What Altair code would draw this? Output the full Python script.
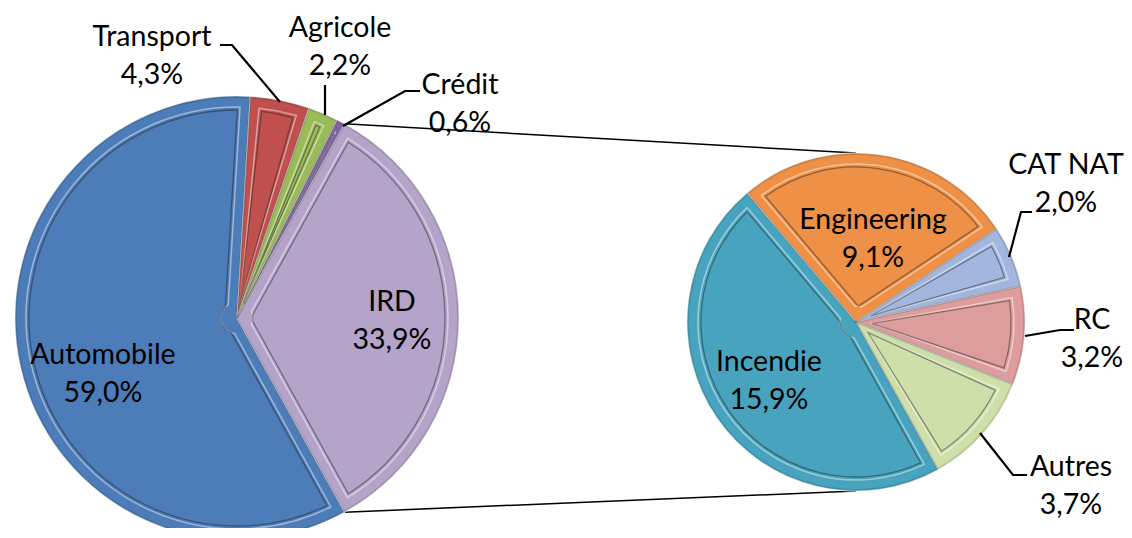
import math
import altair as alt
import pandas as pd

# ---------------- data ----------------
primary_labels = ["Automobile", "Transport", "Agricole", "Crédit", "IRD"]
primary_values = [59.0, 4.3, 2.2, 0.6, 33.9]
secondary_labels = ["Engineering", "CAT NAT", "RC", "Autres", "Incendie"]
secondary_values = [9.1, 2.0, 3.2, 3.7, 15.9]

# ---------------- style / layout ----------------
primary_colors = ["#4C7DB9", "#C0504D", "#9BBB59", "#8064A2", "#B5A4CA"]
secondary_colors = ["#EE9046", "#A3B6DE", "#DE9D9D", "#CFDFAA", "#48A4BE"]
FONT = "Lato"
W, H = 1116, 520
C1, R1 = (229, 310), 222      # primary pie centre / radius (chart px)
C2, R2 = (848, 314), 169      # secondary pie centre / radius
# Excel centres the "other" slice (IRD) on 3 o'clock
ird_angle = primary_values[-1] / sum(primary_values) * 2 * math.pi
START1 = math.pi / 2 + ird_angle / 2
START2 = math.radians(-40.2)

# label anchor points (chart px, middle of the first line)
label_pos = {
    "Automobile": (95, 347), "Transport": (144, 29), "Agricole": (332, 20),
    "Crédit": (452, 77), "IRD": (384, 294), "Engineering": (865, 212),
    "CAT NAT": (1058, 157), "RC": (1084, 312), "Incendie": (761, 354),
    "Autres": (1063, 459),
}
leaders = [
    [(212, 37), (224, 37), (272, 94)],
    [(317, 77), (317, 107)],
    [(412, 83), (397, 83), (335, 118)],
    [(1024, 204), (1013, 204), (1001, 249)],
    [(1066, 322), (1052, 322), (1017, 328)],
    [(1019, 467), (1005, 467), (972, 425)],
]


def fmt(v):
    return f"{v:.1f}%".replace(".", ",")


def pie_df(labels, values):
    return pd.DataFrame({"label": labels, "value": values, "idx": range(len(labels))})


def pie(labels, values, colors, centre, r, start):
    df = pie_df(labels, values)
    base = alt.Chart(df).encode(
        theta=alt.Theta("value:Q", stack=True,
                        scale=alt.Scale(range=[start, start + 2 * math.pi])),
        order=alt.Order("idx:Q"),
        x=alt.value(centre[0]),
        y=alt.value(centre[1]),
    )
    col = alt.Color("label:N", scale=alt.Scale(domain=labels, range=colors), legend=None)
    fill = base.mark_arc(outerRadius=r, stroke="white", strokeWidth=1.2,
                         strokeOpacity=0.6).encode(color=col)
    rim = base.mark_arc(outerRadius=r - 1, fillOpacity=0, stroke="#000000",
                        strokeOpacity=0.12, strokeWidth=2)
    hl = base.mark_arc(outerRadius=r - 11, innerRadius=16, padAngle=20 / r,
                       fillOpacity=0, stroke="white", strokeOpacity=0.45, strokeWidth=1.5)
    inner = base.mark_arc(outerRadius=r - 14, innerRadius=16, padAngle=26 / r,
                          fillOpacity=0, stroke="#222222", strokeOpacity=0.45, strokeWidth=1.3)
    return alt.layer(fill, rim, hl, inner)


pie1 = pie(primary_labels, primary_values, primary_colors, C1, R1, START1)
pie2 = pie(secondary_labels, secondary_values, secondary_colors, C2, R2, START2)

# connector lines from the IRD slice edges to the top / bottom of the second pie
a_top = START1 + 2 * math.pi * sum(primary_values[:-1]) / sum(primary_values)
a_bot = START1 + 2 * math.pi
conn_rows = []
for i, (ang, ys) in enumerate([(a_top, -1), (a_bot, 1)]):
    conn_rows.append({"id": i, "o": 0, "px": C1[0] + R1 * math.sin(ang),
                      "py": C1[1] - R1 * math.cos(ang)})
    conn_rows.append({"id": i, "o": 1, "px": C2[0], "py": C2[1] + ys * R2})
connectors = alt.Chart(pd.DataFrame(conn_rows)).mark_line(
    color="black", strokeWidth=1.5).encode(
    x=alt.X("px:Q", scale=None, axis=None),
    y=alt.Y("py:Q", scale=None, axis=None),
    detail="id:N", order="o:Q")

lead_rows = []
for i, pts in enumerate(leaders):
    for j, (px, py) in enumerate(pts):
        lead_rows.append({"id": i, "o": j, "px": px, "py": py})
leader_lines = alt.Chart(pd.DataFrame(lead_rows)).mark_line(
    color="black", strokeWidth=2.2).encode(
    x=alt.X("px:Q", scale=None, axis=None),
    y=alt.Y("py:Q", scale=None, axis=None),
    detail="id:N", order="o:Q")

lab_rows = []
for labs, vals in [(primary_labels, primary_values), (secondary_labels, secondary_values)]:
    for l, v in zip(labs, vals):
        px, py = label_pos[l]
        lab_rows.append({"t": f"{l}\n{fmt(v)}", "px": px, "py": py})
labels = alt.Chart(pd.DataFrame(lab_rows)).mark_text(
    font=FONT, fontSize=28.5, lineHeight=38, lineBreak="\n", align="center",
    baseline="middle", color="black").encode(
    x=alt.X("px:Q", scale=None, axis=None),
    y=alt.Y("py:Q", scale=None, axis=None),
    text="t:N")

chart = alt.layer(connectors, pie1, pie2, leader_lines, labels).resolve_scale(
    theta="independent", color="independent"
).properties(width=W, height=H, padding=0, autosize="none",
             background="white").configure_view(stroke=None)

chart.save("out.html", embed_options={"renderer": "svg", "actions": False})
